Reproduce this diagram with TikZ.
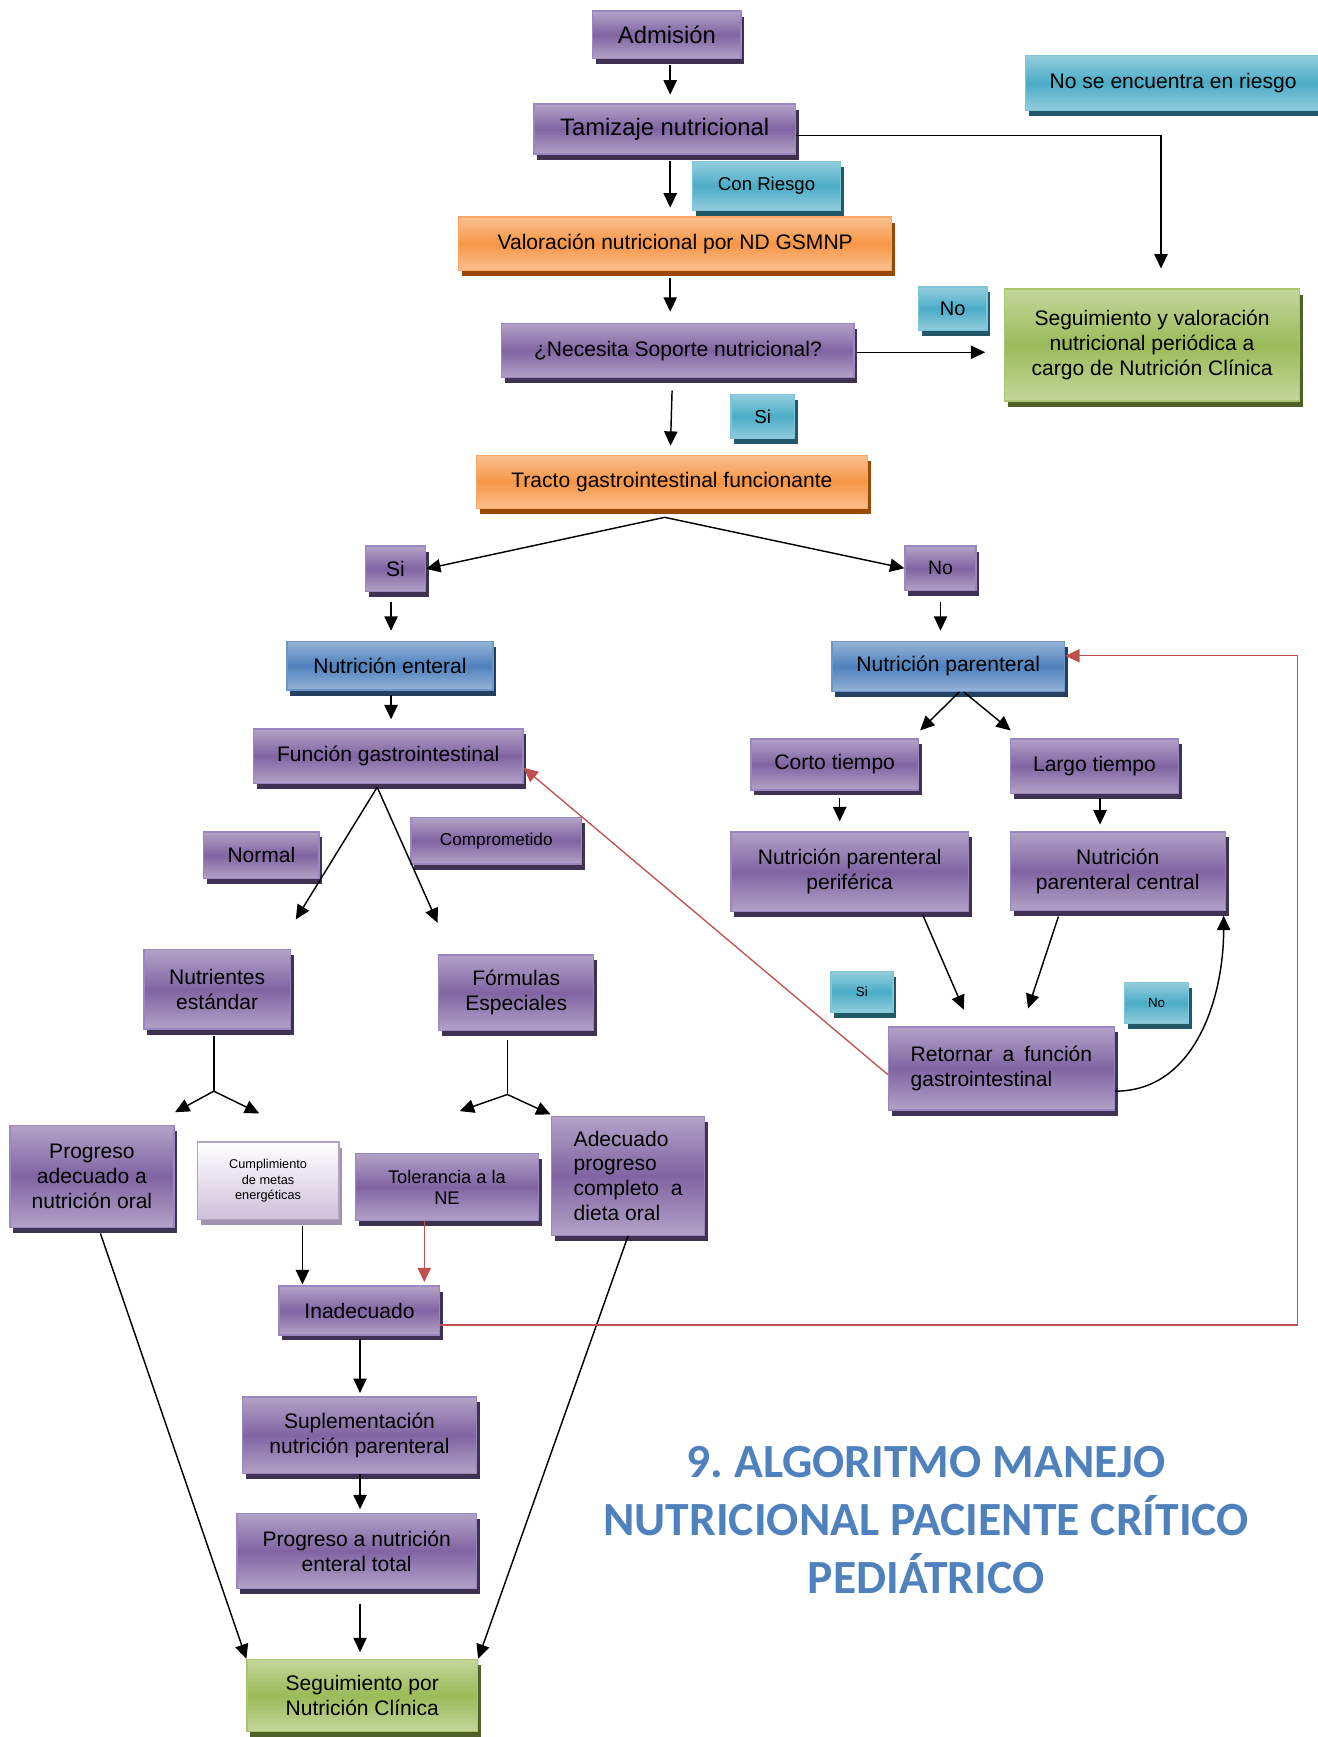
\documentclass[tikz,border=0pt]{standalone}
\usepackage{fontspec}
\setmainfont{Liberation Sans}
\newfontfamily\titlefont{Carlito}
\usepackage{tikz}
\usetikzlibrary{arrows.meta,shadows,calc}
\definecolor{plumLight}{HTML}{B3A2C7}
\definecolor{plumMid}{HTML}{8064A2}
\definecolor{plumEdge}{HTML}{9A86C0}
\definecolor{plumShadow}{HTML}{3F3151}
\definecolor{tealLight}{HTML}{93CDDD}
\definecolor{tealMid}{HTML}{4BACC6}
\definecolor{tealEdge}{HTML}{7FC6D9}
\definecolor{tealShadow}{HTML}{215968}
\definecolor{orangeLight}{HTML}{FAC090}
\definecolor{orangeMid}{HTML}{F79646}
\definecolor{orangeEdge}{HTML}{F8A565}
\definecolor{orangeShadow}{HTML}{984807}
\definecolor{blueLight}{HTML}{95B3D7}
\definecolor{blueMid}{HTML}{4F81BD}
\definecolor{blueEdge}{HTML}{6C95CA}
\definecolor{blueShadow}{HTML}{244061}
\definecolor{greenLight}{HTML}{C3D69B}
\definecolor{greenMid}{HTML}{9BBB59}
\definecolor{greenEdge}{HTML}{A9C56E}
\definecolor{greenShadow}{HTML}{4F6228}
\definecolor{lilac}{HTML}{CCC0DA}
\definecolor{lilacShadow}{HTML}{A093B2}
\definecolor{retRed}{HTML}{C0504D}
\definecolor{titleBlue}{HTML}{4F81BD}

\begin{document}
\begin{tikzpicture}[x=1pt, y=-1pt,
    box/.style={rectangle, inner sep=1pt, align=center, line width=1.2pt,
                font=\fontsize{19}{22.5}\selectfont},
    dims/.style 2 args={minimum width=#1, minimum height=#2},
    big/.style={font=\fontsize{21.5}{25}\selectfont},
    small/.style={font=\fontsize{12}{14}\selectfont},
    plum/.style={box, draw=plumEdge, top color=plumLight, bottom color=plumLight,
                 middle color=plumMid,
                 drop shadow={shadow xshift=3pt, shadow yshift=-5pt, opacity=1, fill=plumShadow}},
    teal/.style={box, draw=tealEdge, top color=tealLight, bottom color=tealLight,
                 middle color=tealMid,
                 drop shadow={shadow xshift=3pt, shadow yshift=-5pt, opacity=1, fill=tealShadow}},
    orng/.style={box, draw=orangeEdge, top color=orangeLight, bottom color=orangeLight,
                 middle color=orangeMid,
                 drop shadow={shadow xshift=3pt, shadow yshift=-5pt, opacity=1, fill=orangeShadow}},
    blu/.style={box, draw=blueEdge, top color=blueLight, bottom color=blueLight,
                middle color=blueMid,
                drop shadow={shadow xshift=3pt, shadow yshift=-5pt, opacity=1, fill=blueShadow}},
    grn/.style={box, draw=greenEdge, top color=greenLight, bottom color=greenLight,
                middle color=greenMid,
                drop shadow={shadow xshift=3pt, shadow yshift=-5pt, opacity=1, fill=greenShadow}},
    lila/.style={box, draw=plumLight, top color=white, bottom color=lilac,
                 font=\fontsize{11.5}{14}\selectfont,
                 drop shadow={shadow xshift=3pt, shadow yshift=-5pt, opacity=1, fill=lilacShadow}},
    arr/.style={-{Triangle[length=13pt, width=12pt]}, line width=1.3pt},
    rarr/.style={arr, draw=retRed, line width=1.2pt}]
  \useasboundingbox (0,0) rectangle (1189,1568);

  \node[plum, big, dims={134}{43}] (adm) at (602,31.5) {Admisión};
  \node[plum, big, dims={236}{45}] (tam) at (600,116.5) {Tamizaje nutricional};
  \node[teal, font=\fontsize{16.8}{20}\selectfont, dims={134}{44}] (conr) at (692,168) {Con Riesgo};
  \node[orng, dims={391}{48}] (val) at (609.5,220) {Valoración nutricional por ND GSMNP};
  \node[teal, dims={266}{50}] (noriesgo) at (1059,75) {No se encuentra en riesgo};
  \node[teal, font=\fontsize{18}{20}\selectfont, dims={62}{39}] (nosop) at (860,278.5) {No};
  \node[grn, dims={266}{101}] (segval) at (1040,311.5) {Seguimiento y valoración\\nutricional periódica a\\cargo de Nutrición Clínica};
  \node[plum, dims={318}{49}] (nec) at (612,316.5) {¿Necesita Soporte nutricional?};
  \node[teal, font=\fontsize{17}{20}\selectfont, dims={57}{40}] (sisop) at (688.5,376) {Si};
  \node[orng, dims={353}{48}] (tracto) at (606.5,435) {Tracto gastrointestinal funcionante};
  \node[plum, dims={54}{41}] (sitr) at (357,513.5) {Si};
  \node[plum, font=\fontsize{17.5}{20}\selectfont, dims={64}{40}] (notr) at (849,513) {No};
  \node[blu, dims={186}{44}] (nent) at (352,601) {Nutrición enteral};
  \node[blu, dims={210}{45}] (npar) at (856,601.5) {Nutrición parenteral};
  \node[plum, dims={243}{49}] (func) at (350.5,682.5) {Función gastrointestinal};
  \node[plum, dims={151}{46}] (corto) at (753.5,690) {Corto tiempo};
  \node[plum, dims={152}{49}] (largo) at (988,691.5) {Largo tiempo};
  \node[plum, dims={214}{72}] (nperif) at (767,787) {Nutrición parenteral\\periférica};
  \node[plum, dims={194}{71}] (ncent) at (1009,786.5) {Nutrición\\parenteral central};
  \node[plum, align=left, dims={204}{75}] (retor) at (904,964.5) {Retornar\hspace{9pt}a\hspace{9pt}función\\gastrointestinal};
  \node[teal, small, dims={56}{37}] (siret) at (778,895.5) {Si};
  \node[teal, small, dims={58}{37}] (noret) at (1044,905.5) {No};
  \node[plum, dims={104}{42}] (normal) at (236,772) {Normal};
  \node[plum, font=\fontsize{15.5}{18}\selectfont, dims={154}{42}] (compr) at (448,759) {Comprometido};
  \node[plum, dims={132}{72}] (nutest) at (196,893) {Nutrientes\\estándar};
  \node[plum, dims={140}{68}] (formesp) at (466,896) {Fórmulas\\Especiales};
  \node[plum, dims={148}{92}] (progoral) at (83,1062) {Progreso\\adecuado a\\nutrición oral};
  \node[lila, dims={128}{70}] (cumpl) at (242,1066) {Cumplimiento\\de metas\\energéticas};
  \node[plum, font=\fontsize{16.5}{19}\selectfont, dims={165}{61}] (toler) at (403.5,1071.5) {Tolerancia a la\\NE};
  \node[plum, align=left, dims={138}{107}] (adecprog) at (567,1061.5) {Adecuado\\progreso\\completo\ \ a\\dieta oral};
  \node[plum, dims={145}{44}] (inad) at (324.5,1183) {Inadecuado};
  \node[plum, dims={211}{69}] (suple) at (324.5,1295.5) {Suplementación\\nutrición parenteral};
  \node[plum, dims={216}{68}] (progent) at (322,1400) {Progreso a nutrición\\enteral total};
  \node[grn, dims={208}{65}] (segclin) at (327,1530.5) {Seguimiento por\\Nutrición Clínica};
  \node[font=\titlefont\bfseries\fontsize{43}{52.5}\selectfont, text=titleBlue, align=center]
    (titulo) at (836,1372) {9.\ ALGORITMO MANEJO\\NUTRICIONAL PACIENTE CRÍTICO\\PEDIÁTRICO};

  \coordinate (trfork) at (600,467);
  \coordinate (normtip) at (267,830);
  \coordinate (comptip) at (395,833);
  \coordinate (nutfork) at (193,985);
  \coordinate (progtip) at (158,1004);
  \coordinate (cumptip) at (234,1005);
  \coordinate (formfork) at (458,988);
  \coordinate (tolertip) at (415,1003);
  \coordinate (adectip) at (497,1006);
  \coordinate (redrail) at (1171,900);

  \draw[arr, shorten <=5pt, shorten >=8pt] ([xshift=3]adm.south) -- ([xshift=3]adm.south |- tam.north);
  \draw[arr, shorten <=6pt, shorten >=8pt] ([xshift=5]tam.south) -- ([xshift=5]tam.south |- val.north);
  \draw[arr, shorten <=6pt, shorten >=10pt] ([xshift=-4.5]val.south) -- ([xshift=-4.5]val.south |- nec.north);
  \draw[arr, shorten <=11pt, shorten >=8pt] ([xshift=-5]nec.south) -- ([xshift=-1.5]tracto.north);
  \draw[arr, shorten <=2pt, shorten >=17pt] ([yshift=-1.5]nec.east) -- ([yshift=-1.5]nec.east -| segval.west);
  \draw[arr, shorten >=18pt] ([yshift=-6]tam.east) -| ([xshift=8]segval.north);
  \draw[arr] (trfork) -- (sitr.east);
  \draw[arr] (trfork) -- (notr.west);
  \draw[arr, shorten <=9pt, shorten >=9pt] ([xshift=-4]sitr.south) -- ([xshift=-4]sitr.south |- nent.north);
  \draw[arr, shorten <=10pt, shorten >=9pt] (notr.south) -- (notr.south |- npar.north);
  \draw[arr, shorten <=4pt, shorten >=8pt] ([xshift=1]nent.south) -- ([xshift=1]nent.south |- func.north);
  \draw[arr] ([xshift=-10,yshift=-3]func.south) -- (normtip);
  \draw[arr] ([xshift=-10,yshift=-3]func.south) -- (comptip);
  \draw[line width=1.3pt] ([xshift=-3,yshift=-6]nutest.south) -- (nutfork);
  \draw[arr] (nutfork) -- (progtip);
  \draw[arr] (nutfork) -- (cumptip);
  \draw[line width=1.3pt] ([xshift=-8,yshift=-8]formesp.south) -- (formfork);
  \draw[arr] (formfork) -- (tolertip);
  \draw[arr] (formfork) -- (adectip);
  \draw[arr, shorten <=5pt, shorten >=1pt] ([xshift=31]cumpl.south) -- ([xshift=31]cumpl.south |- inad.north);
  \draw[rarr, shorten >=3pt] ([xshift=-20.5]toler.south) -- ([xshift=-20.5]toler.south |- inad.north);
  \draw[arr, shorten <=3pt, shorten >=3pt] ([xshift=0.5]inad.south) -- ([xshift=0.5]inad.south |- suple.north);
  \draw[arr, shorten >=3pt] ([xshift=0.5]suple.south) -- ([xshift=0.5]suple.south |- progent.north);
  \draw[arr, shorten <=13pt, shorten >=6pt] ([xshift=3]progent.south) -- ([xshift=3]progent.south |- segclin.north);
  \draw[arr, shorten <=5pt] ([xshift=6]progoral.south) -- (segclin.north west);
  \draw[arr] (adecprog.south) -- (segclin.north east);
  \draw[rarr] ([yshift=-13]inad.east) -| (redrail) |- ([yshift=9.5]npar.east);
  \draw[rarr] ([yshift=-5.5]retor.west) -- ([yshift=-10.5]func.east);
  \draw[arr] ([xshift=10]npar.south) -- ([xshift=1,yshift=7]corto.north east);
  \draw[arr] ([xshift=14]npar.south) -- ([xshift=1,yshift=7]largo.north west);
  \draw[arr, shorten <=7pt, shorten >=9pt] ([xshift=4.5]corto.south) -- ([xshift=4.5]corto.south |- nperif.north);
  \draw[arr, shorten <=4pt, shorten >=6pt] ([xshift=5]largo.south) -- ([xshift=5]largo.south |- ncent.north);
  \draw[arr, shorten <=3pt] ([xshift=65]nperif.south) -- ([xshift=-34,yshift=15]retor.north);
  \draw[arr, shorten <=5pt] ([xshift=-52]ncent.south) -- ([xshift=24,yshift=16]retor.north);
  \draw[arr] ([yshift=-20.5]retor.east) to[out=0, in=-90] ([xshift=-2,yshift=-4]ncent.south east);
\end{tikzpicture}
\end{document}
